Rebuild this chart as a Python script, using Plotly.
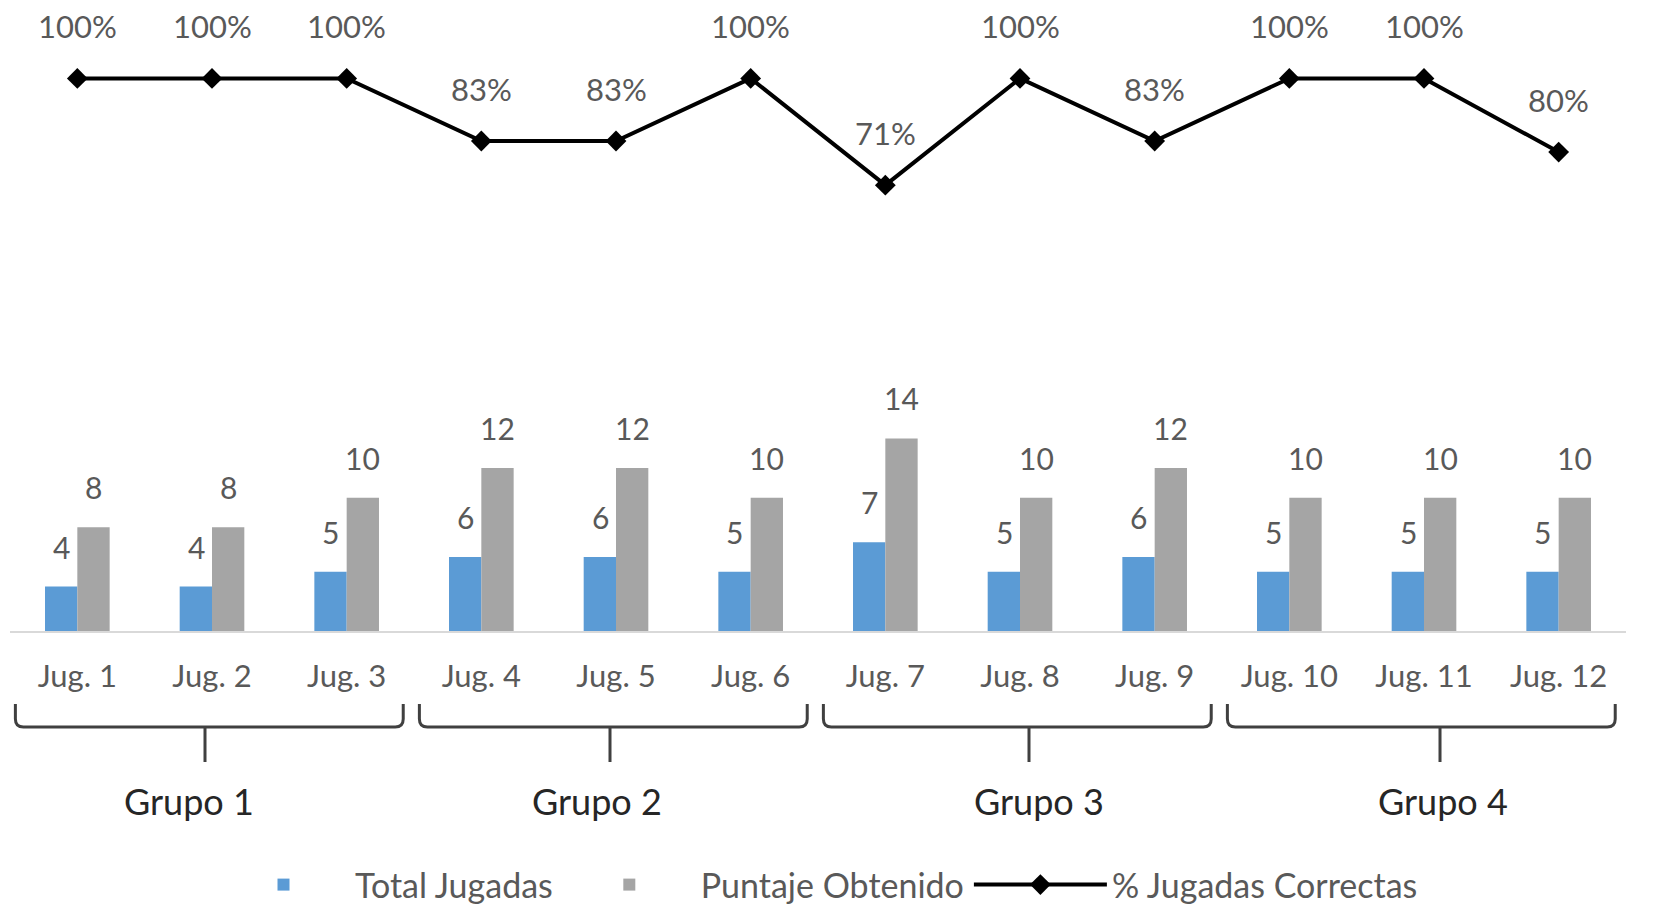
import plotly.graph_objects as go

# ---- data ----
jugadores = ["Jug. 1", "Jug. 2", "Jug. 3", "Jug. 4", "Jug. 5", "Jug. 6",
             "Jug. 7", "Jug. 8", "Jug. 9", "Jug. 10", "Jug. 11", "Jug. 12"]
total_jugadas = [4, 4, 5, 6, 6, 5, 7, 5, 6, 5, 5, 5]
puntaje_obtenido = [8, 8, 10, 12, 12, 10, 14, 10, 12, 10, 10, 10]
pct_correctas = [1.00, 1.00, 1.00, 0.83, 0.83, 1.00, 0.71, 1.00, 0.83, 1.00, 1.00, 0.80]
grupos = ["Grupo 1", "Grupo 2", "Grupo 3", "Grupo 4"]
grupo_de_jugador = [0, 0, 0, 1, 1, 1, 2, 2, 2, 3, 3, 3]

# ---- style ----
BLUE = "#5B9BD5"
GRAY = "#A5A5A5"
TXT = "#595959"
FONT = "Lato"
label_shift_px = [-23, -19, 19, 19]   # hand-placed group captions
stem_shift_px = [-7, -6, 9, 16]

xs = list(range(len(jugadores)))

fig = go.Figure()
fig.add_trace(go.Bar(x=xs, y=total_jugadas, name="Total Jugadas",
                     marker=dict(color=BLUE, line=dict(width=0))))
fig.add_trace(go.Bar(x=xs, y=puntaje_obtenido, name="Puntaje Obtenido",
                     marker=dict(color=GRAY, line=dict(width=0))))
fig.add_trace(go.Scatter(x=xs, y=pct_correctas, name="% Jugadas Correctas",
                         yaxis="y2", mode="lines+markers",
                         line=dict(color="black", width=4),
                         marker=dict(symbol="diamond", size=16, color="black")))

annotations = []
for i, v in enumerate(total_jugadas):
    annotations.append(dict(x=i, y=v, xref="x", yref="y", text=str(v),
                            showarrow=False, xshift=-16, yshift=40,
                            font=dict(family=FONT, size=30, color=TXT)))
for i, v in enumerate(puntaje_obtenido):
    annotations.append(dict(x=i, y=v, xref="x", yref="y", text=str(v),
                            showarrow=False, xshift=16, yshift=40,
                            font=dict(family=FONT, size=30, color=TXT)))
for i, v in enumerate(pct_correctas):
    annotations.append(dict(x=i, y=v, xref="x", yref="y2", text=f"{round(v*100)}%",
                            showarrow=False, yshift=52,
                            font=dict(family=FONT, size=31, color=TXT)))

PLOT_H = 631.0
UNIT_PX = 134.6
def py(p):
    return (PLOT_H - p) / PLOT_H

y_top, y_h, y_bot, y_lab = py(704), py(727), py(762), py(801)
rx = 8 / UNIT_PX
ry = 8 / PLOT_H
shapes = []
for g, name in enumerate(grupos):
    members = [i for i, gg in enumerate(grupo_de_jugador) if gg == g]
    x0 = members[0] - 0.46
    x1 = members[-1] + 0.42
    xm = sum(members) / len(members)
    xs_stem = xm + stem_shift_px[g] / UNIT_PX
    path = (f"M {x0},{y_top} L {x0},{y_h + ry} Q {x0},{y_h} {x0 + rx},{y_h} "
            f"L {x1 - rx},{y_h} Q {x1},{y_h} {x1},{y_h + ry} L {x1},{y_top} "
            f"M {xs_stem},{y_h} L {xs_stem},{y_bot}")
    shapes.append(dict(type="path", xref="x", yref="paper", path=path,
                       line=dict(color="#404040", width=3)))
    annotations.append(dict(x=xm, y=y_lab, xref="x", yref="paper", text=name,
                            showarrow=False, yanchor="middle", xshift=label_shift_px[g],
                            font=dict(family=FONT, size=36, color="#262626")))

fig.update_layout(
    width=1663, height=904,
    margin=dict(l=10, r=37, t=0, b=273, autoexpand=False),
    paper_bgcolor="white", plot_bgcolor="white",
    barmode="group", bargap=0.52, bargroupgap=0,
    font=dict(family=FONT, color=TXT),
    xaxis=dict(range=[-0.5, 11.5], tickmode="array", tickvals=xs, ticktext=jugadores,
               showgrid=False, zeroline=False, showline=True,
               linecolor="#D9D9D9", linewidth=2, ticks="",
               ticklabelstandoff=17,
               tickfont=dict(family=FONT, size=31, color=TXT)),
    yaxis=dict(range=[1.0, 43.6], visible=False, showgrid=False, zeroline=False),
    yaxis2=dict(range=[-0.501, 1.213], overlaying="y", side="right",
                visible=False, showgrid=False, zeroline=False),
    showlegend=True,
    legend=dict(orientation="h", x=(212 - 10) / 1616, xanchor="left",
                y=py(885), yanchor="middle", itemwidth=133,
                font=dict(family=FONT, size=34, color=TXT),
                bgcolor="rgba(0,0,0,0)"),
    annotations=annotations,
    shapes=shapes,
)

fig.write_html("out.html")
